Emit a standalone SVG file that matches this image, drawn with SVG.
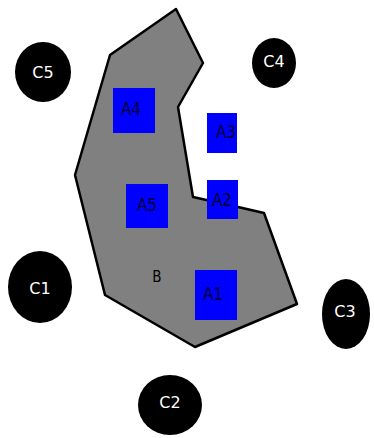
<svg xmlns="http://www.w3.org/2000/svg" width="374" height="438" viewBox="0 0 374 438">
<style>
.c{fill:#000}
.ct{fill:#fff;font-family:"DejaVu Sans",sans-serif;font-size:16px;text-anchor:middle;dominant-baseline:central}
.a{fill:#0000ff}
.at{fill:#000033;font-family:"DejaVu Sans Condensed","DejaVu Sans",sans-serif;font-size:17px;text-anchor:middle;dominant-baseline:central}
</style>
<rect width="374" height="438" fill="#fff"/>
<g id="B">
<polygon points="176,9 203,63 178,107 193,197 238,207 264,213 297,304 195,347 105,295 75,175 110,55" fill="#808080" stroke="#000" stroke-width="2.5" stroke-linejoin="round"/>
<text x="157" y="277" class="at" style="fill:#000;font-size:15px">B</text>
</g>
<g id="A4"><rect class="a" x="113" y="88" width="42" height="45"/><text class="at" x="131" y="109">A4</text></g>
<g id="A3"><rect class="a" x="207" y="113" width="30" height="40"/><text class="at" x="226" y="132">A3</text></g>
<g id="A2"><rect class="a" x="207" y="180" width="31" height="39"/><text class="at" x="222" y="200">A2</text></g>
<g id="A5"><rect class="a" x="126" y="184" width="42" height="44"/><text class="at" x="147" y="205">A5</text></g>
<g id="A1"><rect class="a" x="195" y="270" width="42" height="50"/><text class="at" x="213" y="294">A1</text></g>
<g id="C5"><ellipse class="c" cx="43" cy="72" rx="28" ry="30"/><text class="ct" x="43" y="72">C5</text></g>
<g id="C4"><ellipse class="c" cx="274" cy="63" rx="22" ry="25"/><text class="ct" x="274" y="61">C4</text></g>
<g id="C1"><ellipse class="c" cx="40" cy="287" rx="32" ry="36"/><text class="ct" x="40" y="288">C1</text></g>
<g id="C3"><ellipse class="c" cx="346" cy="314" rx="24" ry="35"/><text class="ct" x="345" y="311">C3</text></g>
<g id="C2"><ellipse class="c" cx="170" cy="405" rx="32" ry="30"/><text class="ct" x="170" y="402">C2</text></g>
<g id="connectors"/>
</svg>
